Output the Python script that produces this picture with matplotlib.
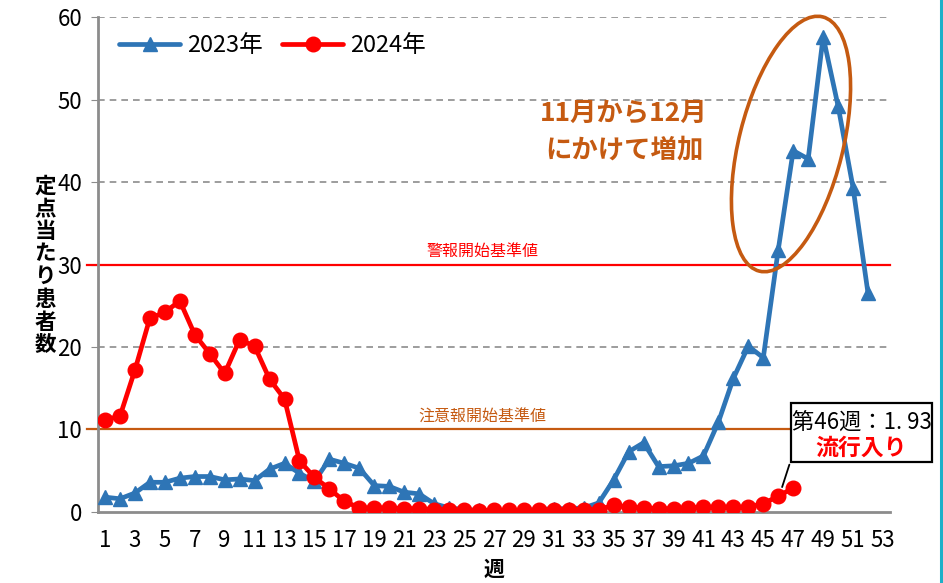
import numpy as np
import matplotlib
matplotlib.use('Agg')
import matplotlib.pyplot as plt
from matplotlib.patches import Ellipse, Rectangle
from matplotlib.lines import Line2D

plt.rcParams['font.family'] = ['Liberation Sans Narrow', 'Noto Sans CJK JP', 'DejaVu Sans']

# weekly values (定点当たり患者数)
weeks_2023 = list(range(1, 53))
vals_2023 = [1.8, 1.6, 2.3, 3.6, 3.6, 4.1, 4.3, 4.3, 3.9, 4.0,
             3.8, 5.2, 5.9, 4.7, 3.7, 6.4, 5.9, 5.3, 3.2, 3.1,
             2.4, 2.2, 1.0, 0.5, 0.3, 0.2, 0.2, 0.2, 0.2, 0.3,
             0.4, 0.4, 0.5, 1.1, 3.9, 7.3, 8.4, 5.5, 5.6, 5.9,
             6.8, 10.9, 16.2, 20.1, 18.7, 31.8, 43.8, 42.8, 57.6, 49.2,
             39.3, 26.5]

weeks_2024 = list(range(1, 48))
vals_2024 = [11.2, 11.6, 17.2, 23.5, 24.2, 25.6, 21.5, 19.2, 16.8, 20.9,
             20.1, 16.1, 13.7, 6.2, 4.2, 2.8, 1.3, 0.5, 0.5, 0.5,
             0.4, 0.4, 0.3, 0.3, 0.2, 0.1, 0.2, 0.2, 0.2, 0.2,
             0.3, 0.3, 0.3, 0.3, 0.8, 0.6, 0.5, 0.4, 0.4, 0.5,
             0.6, 0.6, 0.6, 0.6, 1.0, 1.93, 2.9]

alert_level = 30      # 警報開始基準値
caution_level = 10    # 注意報開始基準値
xticks = list(range(1, 54, 2))
yticks = [0, 10, 20, 30, 40, 50, 60]

blue = '#2E75B6'
red = '#FF0000'
orange = '#C55A11'

fig = plt.figure(figsize=(9.43, 5.83), dpi=100)
ax = fig.add_axes([0.1034, 0.1218, 0.8409, 0.849])

ax.set_xlim(0.5, 53.5)
ax.set_ylim(0, 60)

# grid
for y in [10, 20, 40, 50, 60]:
    ax.axhline(y, color='#8C8C8C', lw=1.2, ls=(0, (4, 3)), zorder=1)

# threshold lines
ax.plot([-0.2, 53.5], [alert_level, alert_level], color=red, lw=1.6, clip_on=False, zorder=2)
ax.plot([-0.2, 53.5], [caution_level, caution_level], color=orange, lw=1.6, clip_on=False, zorder=2)
ax.text(26.2, alert_level + 0.5, '警報開始基準値', color=red, fontsize=11.5,
        ha='center', va='bottom', family=['Noto Sans CJK JP'])
ax.text(26.2, caution_level + 0.5, '注意報開始基準値', color=orange, fontsize=11.5,
        ha='center', va='bottom', family=['Noto Sans CJK JP'])

ax.plot(weeks_2023, vals_2023, color=blue, lw=3.4, marker='^', ms=10.5,
        label='2023年', zorder=4, solid_capstyle='round')
ax.plot(weeks_2024, vals_2024, color=red, lw=3.4, marker='o', ms=10.5,
        label='2024年', zorder=5, solid_capstyle='round')

ax.set_xticks(xticks)
ax.set_yticks(yticks)
ax.tick_params(axis='x', length=0, labelsize=16, pad=12)
ax.tick_params(axis='y', length=5, color='#8C8C8C', labelsize=16, pad=6)
for s in ['top', 'right']:
    ax.spines[s].set_visible(False)
for s in ['left', 'bottom']:
    ax.spines[s].set_color('#8C8C8C')
    ax.spines[s].set_linewidth(2)

ax.set_xlabel('週', fontsize=15, fontweight='bold', family=['Noto Sans CJK JP'], labelpad=5)
fig.text(0.048, 0.545, '\n'.join('定点当たり患者数'), fontsize=15.5, fontweight='bold',
         ha='center', va='center', linespacing=1.1, family=['Noto Sans CJK JP'])

leg = ax.legend(loc='upper left', bbox_to_anchor=(0.015, 0.985), ncol=2, frameon=False,
                fontsize=17, handlelength=2.6, columnspacing=0.8, handletextpad=0.3,
                borderaxespad=0)

# comment text and ellipse
ax.text(35.7, 46.1, '11月から12月\nにかけて増加', color=orange, fontsize=19,
        fontweight='bold', ha='center', va='center', linespacing=1.5,
        family=['Noto Sans CJK JP'])
ell = Ellipse((7.91, 4.39), 1.04, 2.62, angle=-14, fill=False, edgecolor=orange,
              lw=2.6, transform=fig.dpi_scale_trans, zorder=6)
fig.add_artist(ell)

# callout box for week 46
box = Rectangle((46.86, 6.06), 9.42, 7.14, facecolor='white', edgecolor='black',
                lw=1.6, clip_on=False, zorder=7)
ax.add_patch(box)
ax.annotate('', xy=(46.2, 2.7), xytext=(46.8, 6.06),
            arrowprops=dict(arrowstyle='-', color='black', lw=1.3), zorder=7)
ax.text(51.57, 10.9, '第46週：1. 93', fontsize=16, ha='center', va='center', zorder=8)
ax.text(51.57, 7.7, '流行入り', fontsize=16.5, color=red, fontweight='bold',
        ha='center', va='center', zorder=8, family=['Noto Sans CJK JP'])

fig.add_artist(Line2D([0.9975, 0.9975], [0, 1], color='#1CB0C8', lw=2.2,
                      transform=fig.transFigure))

fig.savefig('out.png', dpi=100)
